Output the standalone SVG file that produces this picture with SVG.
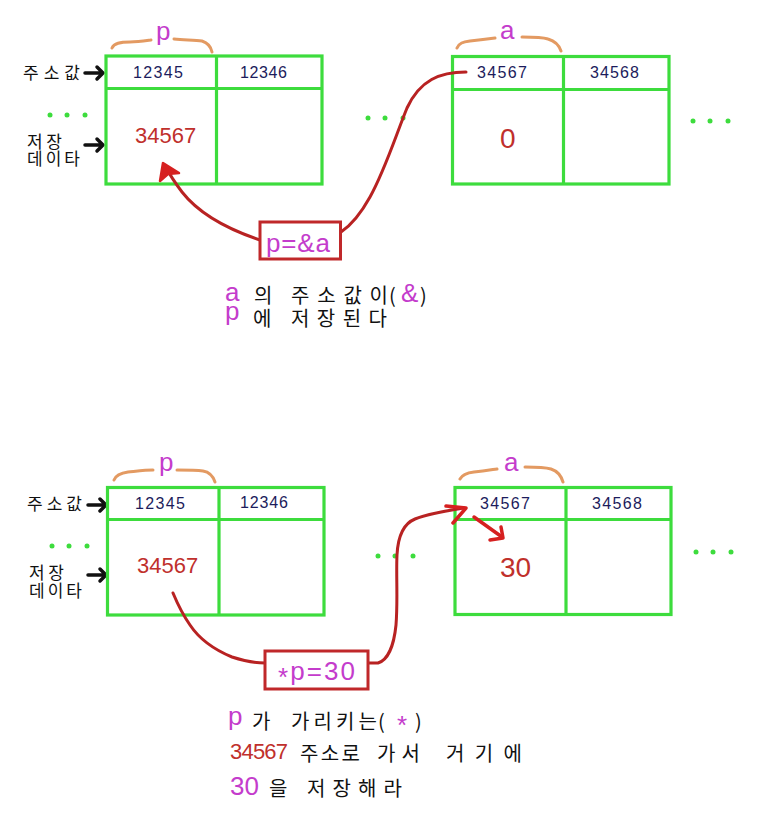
<svg xmlns="http://www.w3.org/2000/svg" width="764" height="831" viewBox="0 0 764 831">
<style>
.cell{fill:none;stroke:#3ddc3d;stroke-width:3.2}
.addr{font-family:"Liberation Sans",Arial,sans-serif;font-size:16px;fill:#1c1c5c}
.val{font-family:"Liberation Sans",Arial,sans-serif;font-size:22px;fill:#c0302c}
.big{font-family:"Liberation Sans",Arial,sans-serif;font-size:28px;fill:#c0302c}
.var{font-family:"Liberation Sans",Arial,sans-serif;font-size:26px;fill:#c43ccc}
.ko{font-family:"Noto Sans CJK KR","Noto Sans",sans-serif;font-size:20px;fill:#111}
.kol{font-family:"Noto Sans CJK KR","Noto Sans",sans-serif;font-size:17px;fill:#111}
.brace{fill:none;stroke:#e39a62;stroke-width:3;stroke-linecap:round}
.dot{fill:#3ddc3d}
.blk{fill:none;stroke:#111;stroke-width:3.5;stroke-linecap:round;stroke-linejoin:round}
.wire{fill:none;stroke:#b82222;stroke-width:3;stroke-linecap:round;stroke-linejoin:round}
.head{fill:none;stroke:#d62020;stroke-width:3.5;stroke-linecap:round;stroke-linejoin:round}
.box{fill:#fff;stroke:#c0282a;stroke-width:3}
.code{font-family:"Liberation Sans",Arial,sans-serif;font-size:26px;fill:#c43ccc}
</style>
<defs>
<g id="dots3"><circle cx="0" cy="0" r="2.5" class="dot"/><circle cx="17" cy="0" r="2.5" class="dot"/><circle cx="35" cy="0" r="2.5" class="dot"/></g>
<path id="rarrow" class="blk" d="M0,0 L18,0 M12,-6 L18,0 L12,6"/>
</defs>

<!-- ===== TOP SECTION ===== -->
<g id="top-labels">
<text class="kol" x="23" y="79" textLength="57">주소값</text>
<use href="#rarrow" x="85" y="73"/>
<use href="#dots3" x="50" y="115"/>
<text class="kol" x="27" y="148" textLength="35">저장</text>
<text class="kol" x="27" y="165" textLength="53">데이타</text>
<use href="#rarrow" x="85" y="145"/>
</g>

<g id="node-p-top">
<rect class="cell" x="106" y="56" width="216" height="128"/>
<line class="cell" x1="106" y1="88.5" x2="322" y2="88.5"/>
<line class="cell" x1="216.5" y1="56" x2="216.5" y2="184"/>
<text class="addr" x="133" y="78" textLength="50">12345</text>
<text class="addr" x="240" y="78" textLength="47">12346</text>
<text class="val" x="135" y="143">34567</text>
<path class="brace" d="M112,48 C114,43 120,42 130,42 C138,42 144,41 151,40 M174,39 C185,40 195,40 202,41 C208,43 211,47 212,52"/>
<text class="var" x="156" y="40" font-size="24">p</text>
</g>

<g id="node-a-top">
<rect class="cell" x="452.5" y="56.5" width="216.5" height="127.5"/>
<line class="cell" x1="452.5" y1="89.5" x2="669" y2="89.5"/>
<line class="cell" x1="563.5" y1="56.5" x2="563.5" y2="184"/>
<text class="addr" x="477" y="78" textLength="50">34567</text>
<text class="addr" x="590" y="78" textLength="49">34568</text>
<text class="big" x="500" y="148">0</text>
<path class="brace" d="M457,48 C459,43 463,42 470,41 C480,40 488,39 495,38 M522,37 C532,37 542,37 548,39 C555,41 559,45 561,51"/>
<text class="var" x="500" y="39" font-size="24">a</text>
</g>

<use href="#dots3" x="368" y="118"/>
<use href="#dots3" x="693" y="121"/>

<g id="connectors-top">
<path class="wire" d="M466,72 C440,72 420,80 407,108 C396,135 385,170 370,197 C360,215 350,226 341,232"/>
<path class="wire" d="M260,240 C230,230 200,215 182,192 C176,184 171,177 167,169"/>
<path fill="#d62020" stroke="#d62020" stroke-width="2.5" stroke-linejoin="round" d="M163,163 L160,181 L168,174 L179,173 Z"/>
</g>

<g id="node-pa">
<rect class="box" x="260" y="222" width="80.5" height="37"/>
<text class="code" x="266" y="252" textLength="64">p=&amp;a</text>
</g>

<g id="caption-top">
<text class="var" x="225" y="301">a</text>
<text class="ko" x="254" y="303" textLength="20">의</text>
<text class="ko" x="291" y="303" textLength="97">주소값이</text>
<text class="ko" x="389" y="303">(</text>
<text class="var" x="401" y="302" font-size="24">&amp;</text>
<text class="ko" x="420" y="303">)</text>
<text class="var" x="225" y="320">p</text>
<text class="ko" x="253" y="326" textLength="21">에</text>
<text class="ko" x="291" y="326" textLength="96">저장된다</text>
</g>

<!-- ===== BOTTOM SECTION ===== -->
<g id="bottom-labels">
<text class="kol" x="27" y="510" textLength="55">주소값</text>
<use href="#rarrow" x="88" y="505"/>
<use href="#dots3" x="52" y="546"/>
<text class="kol" x="29" y="579" textLength="35">저장</text>
<text class="kol" x="29" y="597" textLength="53">데이타</text>
<use href="#rarrow" x="88" y="575"/>
</g>

<g id="node-p-bottom">
<rect class="cell" x="107.5" y="487.5" width="216.5" height="127.5"/>
<line class="cell" x1="107.5" y1="519.5" x2="324" y2="519.5"/>
<line class="cell" x1="219" y1="487.5" x2="219" y2="615"/>
<text class="addr" x="135" y="509" textLength="50">12345</text>
<text class="addr" x="240" y="508" textLength="48">12346</text>
<text class="val" x="137" y="573">34567</text>
<path class="brace" d="M114,480 C116,475 120,473 128,472 C138,471 146,470 153,470 M177,470 C187,470 196,470 203,471 C209,472 213,476 215,482"/>
<text class="var" x="159" y="471" font-size="24">p</text>
</g>

<g id="node-a-bottom">
<rect class="cell" x="455" y="487.5" width="216" height="127"/>
<line class="cell" x1="455" y1="519.5" x2="671" y2="519.5"/>
<line class="cell" x1="566" y1="487.5" x2="566" y2="614.5"/>
<text class="addr" x="480" y="509" textLength="50">34567</text>
<text class="addr" x="592" y="509" textLength="50">34568</text>
<text class="big" x="500" y="577">30</text>
<path class="brace" d="M460,479 C462,475 466,473 474,472 C484,471 490,470 497,469 M525,467 C535,467 544,467 551,469 C557,471 561,475 563,482"/>
<text class="var" x="504" y="471" font-size="24">a</text>
</g>

<use href="#dots3" x="378" y="556"/>
<use href="#dots3" x="696" y="552"/>

<g id="connectors-bottom">
<path class="wire" d="M173,593 C178,605 183,615 190,625 C200,640 215,650 232,657 C244,661 255,663 265,663"/>
<path class="wire" d="M368,663 L378,663 C388,660 394,645 396,625 C398,600 396,575 397,555 C398,535 405,523 415,519 C430,513 445,511 464,508"/>
<path class="head" d="M446,506 L466,508 L453,523"/>
<path class="head" d="M474,517 L502,537"/>
<path class="head" d="M490,540 L503,538 L501,527"/>
</g>

<g id="node-pstar">
<rect class="box" x="265" y="651" width="103" height="38"/>
<text class="code" x="278" y="680" textLength="77"><tspan dy="6">*</tspan><tspan dy="-6">p=30</tspan></text>
</g>

<g id="caption-bottom">
<text class="var" x="228" y="725">p</text>
<text class="ko" x="252" y="729" textLength="18">가</text>
<text class="ko" x="291" y="729" textLength="86">가리키는</text>
<text class="ko" x="378" y="729">(</text>
<text class="var" x="397" y="734" font-size="22">*</text>
<text class="ko" x="415" y="729">)</text>
<text class="val" x="230" y="759" textLength="58" font-size="21">34567</text>
<text class="ko" x="300" y="761" textLength="60">주소로</text>
<text class="ko" x="377" y="761" textLength="43">가서</text>
<text class="ko" x="446" y="761" textLength="76">거기에</text>
<text class="var" x="230" y="795" font-size="28">30</text>
<text class="ko" x="269" y="796" textLength="19">을</text>
<text class="ko" x="307" y="796" textLength="95">저장해라</text>
</g>
</svg>
